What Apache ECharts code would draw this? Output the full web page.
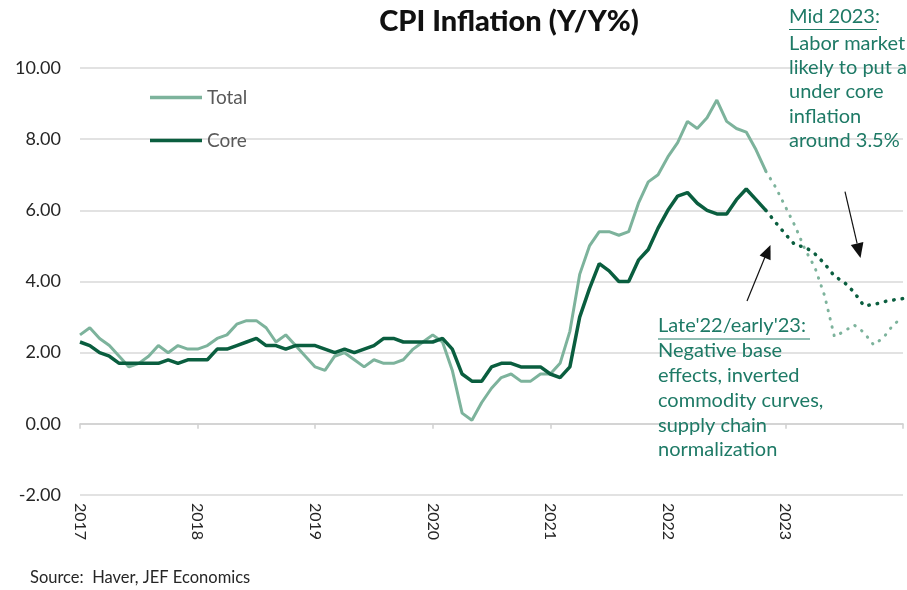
<!DOCTYPE html>
<html>
<head>
<meta charset="utf-8">
<script src="https://cdn.jsdelivr.net/npm/echarts@6/dist/echarts.min.js"></script>
<style>
html, body { margin: 0; padding: 0; background: #fff; }
#main { width: 907px; height: 590px; }
</style>
</head>
<body>
<div id="main"></div>
<script>
// monthly Y/Y %, Jan 2017 .. Nov 2022 (index 0..70)
var startYear = 2017;
var yearLabels = ['2017', '2018', '2019', '2020', '2021', '2022', '2023'];
var totalActual = [
  2.5, 2.7, 2.4, 2.2, 1.9, 1.6, 1.7, 1.9, 2.2, 2.0, 2.2, 2.1,
  2.1, 2.2, 2.4, 2.5, 2.8, 2.9, 2.9, 2.7, 2.3, 2.5, 2.2, 1.9,
  1.6, 1.5, 1.9, 2.0, 1.8, 1.6, 1.8, 1.7, 1.7, 1.8, 2.1, 2.3,
  2.5, 2.3, 1.5, 0.3, 0.1, 0.6, 1.0, 1.3, 1.4, 1.2, 1.2, 1.4,
  1.4, 1.7, 2.6, 4.2, 5.0, 5.4, 5.4, 5.3, 5.4, 6.2, 6.8, 7.0,
  7.5, 7.9, 8.5, 8.3, 8.6, 9.1, 8.5, 8.3, 8.2, 7.7, 7.1
];
var coreActual = [
  2.3, 2.2, 2.0, 1.9, 1.7, 1.7, 1.7, 1.7, 1.7, 1.8, 1.7, 1.8,
  1.8, 1.8, 2.1, 2.1, 2.2, 2.3, 2.4, 2.2, 2.2, 2.1, 2.2, 2.2,
  2.2, 2.1, 2.0, 2.1, 2.0, 2.1, 2.2, 2.4, 2.4, 2.3, 2.3, 2.3,
  2.3, 2.4, 2.1, 1.4, 1.2, 1.2, 1.6, 1.7, 1.7, 1.6, 1.6, 1.6,
  1.4, 1.3, 1.6, 3.0, 3.8, 4.5, 4.3, 4.0, 4.0, 4.6, 4.9, 5.5,
  6.0, 6.4, 6.5, 6.2, 6.0, 5.9, 5.9, 6.3, 6.6, 6.3, 6.0
];
// forecast, Nov 2022 .. Jan 2024 (index 70..84)
var forecastStart = 70;
var totalForecast = [7.1, 6.65, 6.1, 5.55, 4.9, 4.4, 3.6, 2.45, 2.6, 2.78, 2.57, 2.22, 2.42, 2.78, 3.0];
var coreForecast = [6.0, 5.66, 5.33, 5.02, 4.97, 4.78, 4.5, 4.15, 3.98, 3.7, 3.32, 3.35, 3.43, 3.48, 3.52];

var totalColor = '#7db39c';
var coreColor = '#0a5e3f';
var noteColor = '#1e7a66';
var fontName = 'Lato';

function toPoints(arr, offset) {
  return arr.map(function (v, i) { return [i + offset, v]; });
}

var myChart = echarts.init(document.getElementById('main'));

myChart.setOption({
  animation: false,
  textStyle: { fontFamily: fontName },
  title: {
    text: 'CPI Inflation (Y/Y%)',
    left: 504,
    top: 2,
    textAlign: 'center',
    textStyle: { fontSize: 29, fontWeight: 900, color: '#111', fontFamily: fontName }
  },
  legend: {
    orient: 'vertical',
    left: 145,
    top: 83,
    itemWidth: 52,
    itemHeight: 3.5,
    itemGap: 24,
    icon: 'rect',
    data: ['Total', 'Core'],
    textStyle: { fontSize: 19, color: '#595959', fontFamily: fontName }
  },
  grid: { left: 80, right: 4, top: 68, bottom: 95 },
  xAxis: [
    {
      type: 'value',
      min: 0,
      max: 84,
      interval: 12,
      position: 'bottom',
      axisLine: { show: false, onZero: false },
      axisTick: { show: false },
      splitLine: { show: false },
      axisLabel: {
        rotate: -90,
        margin: 8,
        fontSize: 16,
        color: '#262626',
        formatter: function (v) {
          var k = Math.round(v / 12);
          return k < yearLabels.length ? yearLabels[k] : '';
        }
      }
    },
    {
      type: 'value',
      min: 0,
      max: 84,
      interval: 12,
      position: 'bottom',
      axisLine: { show: true, onZero: true, onZeroAxisIndex: 0, lineStyle: { color: '#d0d0d0', width: 1.5 } },
      axisTick: { show: true, length: 5, lineStyle: { color: '#d0d0d0', width: 1.5 } },
      axisLabel: { show: false },
      splitLine: { show: false }
    }
  ],
  yAxis: {
    type: 'value',
    min: -2,
    max: 10,
    interval: 2,
    axisLine: { show: false },
    axisTick: { show: false },
    axisLabel: {
      margin: 19,
      fontSize: 18,
      color: '#262626',
      formatter: function (v) { return v.toFixed(2); }
    },
    splitLine: { lineStyle: { color: '#d9d9d9', width: 1.5 } }
  },
  series: [
    {
      name: 'Total',
      type: 'line',
      showSymbol: false,
      data: toPoints(totalActual, 0),
      lineStyle: { color: totalColor, width: 3 },
      itemStyle: { color: totalColor },
      z: 3
    },
    {
      name: 'Total forecast',
      type: 'line',
      showSymbol: false,
      data: toPoints(totalForecast, forecastStart),
      lineStyle: { color: totalColor, width: 3, type: [0.5, 8], cap: 'round' },
      z: 3
    },
    {
      name: 'Core',
      type: 'line',
      showSymbol: false,
      data: toPoints(coreActual, 0),
      lineStyle: { color: coreColor, width: 3.5 },
      itemStyle: { color: coreColor },
      z: 4
    },
    {
      name: 'Core forecast',
      type: 'line',
      showSymbol: false,
      data: toPoints(coreForecast, forecastStart),
      lineStyle: { color: coreColor, width: 3.5, type: [0.5, 8], cap: 'round' },
      z: 4
    }
  ],
  graphic: [
    // top-right note
    {
      type: 'text', left: 789, top: 5, z: 10,
      style: { text: 'Mid 2023:', fill: noteColor, font: '20px ' + fontName, lineHeight: 24 }
    },
    {
      type: 'line', z: 10,
      shape: { x1: 789, y1: 29.5, x2: 877, y2: 29.5 },
      style: { stroke: noteColor, lineWidth: 1 }
    },
    {
      type: 'text', left: 789, top: 31, z: 10,
      style: {
        text: 'Labor market\nlikely to put a\nunder core\ninflation\naround 3.5%',
        fill: noteColor, font: '20px ' + fontName, lineHeight: 24.3
      }
    },
    // lower note
    {
      type: 'text', left: 658, top: 314, z: 10,
      style: { text: "Late'22/early'23:", fill: noteColor, font: '20px ' + fontName, lineHeight: 24 }
    },
    {
      type: 'line', z: 10,
      shape: { x1: 658, y1: 339, x2: 810, y2: 339 },
      style: { stroke: noteColor, lineWidth: 1 }
    },
    {
      type: 'text', left: 658, top: 338.5, z: 10,
      style: {
        text: 'Negative base\neffects, inverted\ncommodity curves,\nsupply chain\nnormalization',
        fill: noteColor, font: '20px ' + fontName, lineHeight: 24.75
      }
    },
    // arrows
    {
      type: 'line', z: 10,
      shape: { x1: 747, y1: 301, x2: 765, y2: 257 },
      style: { stroke: '#111', lineWidth: 1.2 }
    },
    {
      type: 'polygon', z: 10,
      shape: { points: [[770.5, 245], [770.6, 260.2], [759.6, 255.6]] },
      style: { fill: '#111' }
    },
    {
      type: 'line', z: 10,
      shape: { x1: 845, y1: 191.7, x2: 857.1, y2: 243.4 },
      style: { stroke: '#111', lineWidth: 1.2 }
    },
    {
      type: 'polygon', z: 10,
      shape: { points: [[860.5, 258], [863.4, 241.9], [850.8, 244.9]] },
      style: { fill: '#111' }
    },
    // source
    {
      type: 'text', left: 30, top: 569, z: 10,
      style: { text: 'Source:  Haver, JEF Economics', fill: '#262626', font: '16.5px ' + fontName }
    }
  ]
});
</script>
</body>
</html>
